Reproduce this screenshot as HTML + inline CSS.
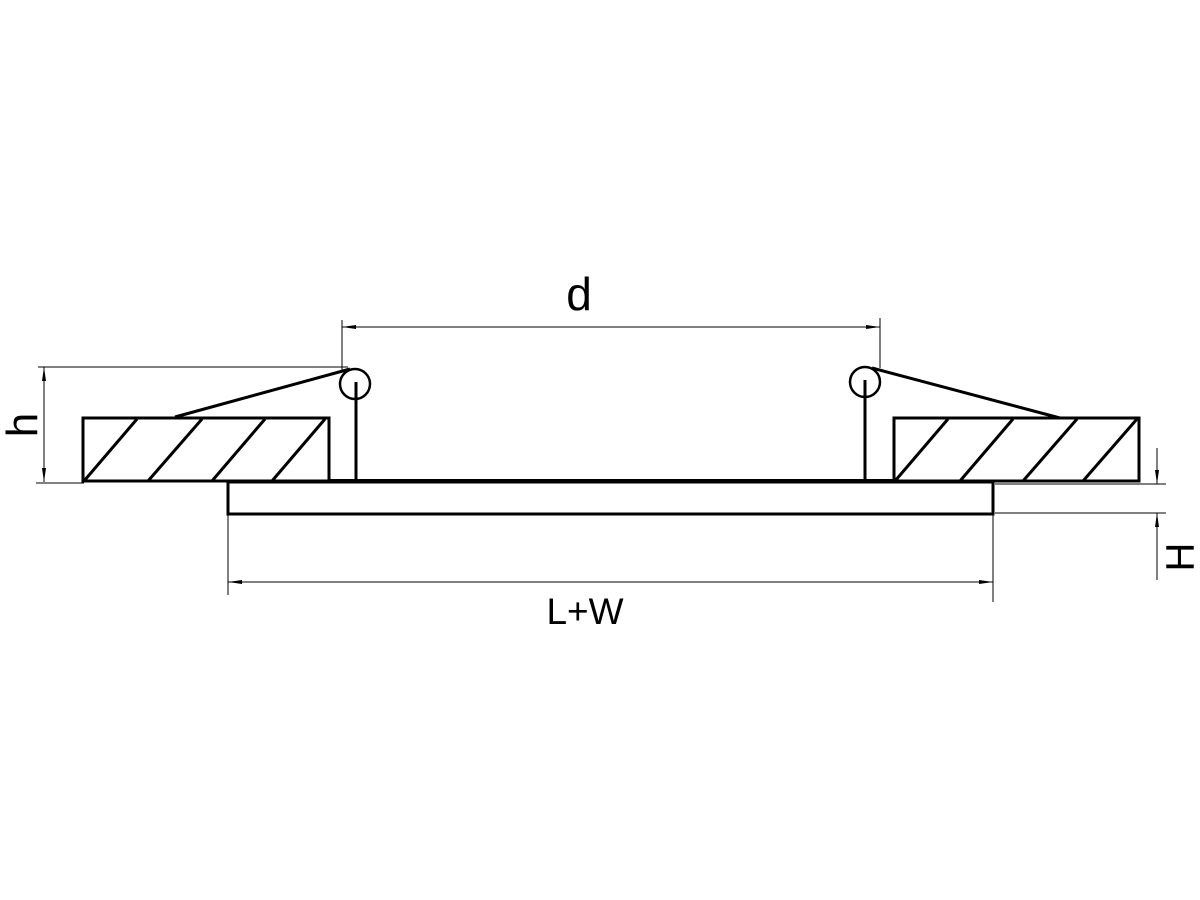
<!DOCTYPE html>
<html><head><meta charset="utf-8"><style>html,body{margin:0;padding:0;background:#fff}svg{display:block}</style></head>
<body>
<svg width="1200" height="900" viewBox="0 0 1200 900" xmlns="http://www.w3.org/2000/svg">
<rect width="1200" height="900" fill="#fff"/>
<g stroke="#000" fill="none" stroke-width="3">
  <rect x="83" y="418" width="246" height="63"/>
  <rect x="894" y="418" width="245" height="63"/>
  <rect x="228" y="482" width="765" height="32"/>
  <line x1="329" y1="481" x2="894" y2="481" stroke-width="4"/>
  <line x1="84" y1="481" x2="137" y2="419"/>
  <line x1="148" y1="481" x2="202" y2="419"/>
  <line x1="212" y1="481" x2="265" y2="419"/>
  <line x1="272" y1="481" x2="325" y2="419"/>
  <line x1="895" y1="481" x2="948" y2="419"/>
  <line x1="960" y1="481" x2="1013" y2="419"/>
  <line x1="1023" y1="481" x2="1077" y2="419"/>
  <line x1="1083" y1="481" x2="1137" y2="419"/>
  <circle cx="355" cy="384" r="15" stroke-width="2.5"/>
  <circle cx="865" cy="382" r="15" stroke-width="2.5"/>
  <line x1="356" y1="382" x2="356" y2="481"/>
  <line x1="865" y1="380" x2="865" y2="481"/>
  <line x1="350" y1="369" x2="175" y2="417"/>
  <line x1="872" y1="368" x2="1060" y2="418"/>
</g>
<g stroke="#000" fill="none" stroke-width="1">
  <line x1="342" y1="320" x2="342" y2="370"/>
  <line x1="880" y1="318" x2="880" y2="368"/>
  <line x1="342" y1="327" x2="880" y2="327"/>
  <line x1="38" y1="367" x2="348" y2="367"/>
  <line x1="36" y1="483" x2="84" y2="483"/>
  <line x1="44" y1="367" x2="44" y2="482"/>
  <line x1="228" y1="514" x2="228" y2="595"/>
  <line x1="993" y1="514" x2="993" y2="602"/>
  <line x1="228" y1="582" x2="993" y2="582"/>
  <line x1="995" y1="484" x2="1166" y2="484"/>
  <line x1="995" y1="513" x2="1166" y2="513"/>
  <line x1="1157" y1="448" x2="1157" y2="484"/>
  <line x1="1157" y1="513" x2="1157" y2="580"/>
</g>
<g fill="#000">
  <polygon points="342,327 356,325 356,329"/>
  <polygon points="880,327 866,325 866,329"/>
  <polygon points="44,367 42,381 46,381"/>
  <polygon points="44,482 42,468 46,468"/>
  <polygon points="228,582 242,580 242,584"/>
  <polygon points="993,582 979,580 979,584"/>
  <polygon points="1157,484 1155,470 1159,470"/>
  <polygon points="1157,513 1155,527 1159,527"/>
</g>
<g font-family="Liberation Sans, sans-serif" fill="#000">
  <text x="579" y="310" font-size="46" text-anchor="middle">d</text>
  <text x="585" y="624" font-size="37" text-anchor="middle">L+W</text>
  <text transform="translate(37,425) rotate(-90)" font-size="44" text-anchor="middle">h</text>
  <text transform="translate(1183,557) rotate(-90)" font-size="40" text-anchor="middle" dominant-baseline="middle">H</text>
</g>
</svg>
</body></html>
